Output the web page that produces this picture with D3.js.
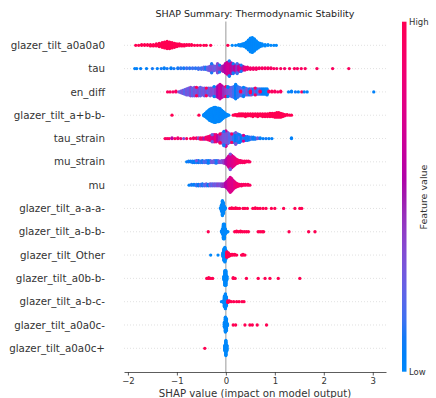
<!DOCTYPE html>
<html>
<head>
<meta charset="utf-8">
<script src="https://cdn.jsdelivr.net/npm/d3@7"></script>
<style>
body { margin: 0; background: #fff; }
text { font-family: "DejaVu Sans", sans-serif; }
</style>
</head>
<body>
<svg id="chart" width="436" height="398"></svg>
<script>
// feature order, top to bottom
const features = ["glazer_tilt_a0a0a0", "tau", "en_diff", "glazer_tilt_a+b-b-", "tau_strain",
  "mu_strain", "mu", "glazer_tilt_a-a-a-", "glazer_tilt_a-b-b-", "glazer_tilt_Other",
  "glazer_tilt_a0b-b-", "glazer_tilt_a-b-c-", "glazer_tilt_a0a0c-", "glazer_tilt_a0a0c+"]

// each entry: [shap value, feature value (0 low .. 1 high), number of samples]
const a0a0a0 = [[-1.84,1,1],[-1.78,1,1],[-1.72,1,2],[-1.66,1,2],[-1.6,1,2],[-1.54,1,3],[-1.48,1,3],[-1.42,1,4],
  [-1.36,1,6],[-1.3,1,8],[-1.25,1,10],[-1.2,1,12],[-1.15,1,11],[-1.1,1,9],[-1.05,1,7],[-1.0,1,5],[-0.95,1,4],
  [-0.9,1,3],[-0.85,1,3],[-0.8,1,2],[-0.75,1,2],[-0.7,1,2],[-0.64,1,1],[-0.58,1,1],[-0.52,1,1],[-0.45,1,1],
  [-0.4,1,1],[-0.31,1,1],[0.04,1,1],
  [0.13,0,1],[0.2,0,1],[0.26,0,2],[0.3,0,3],[0.34,0,4],[0.38,0,6],[0.42,0,10],[0.46,0,16],[0.5,0,22],
  [0.54,0,24],[0.58,0,20],[0.62,0,14],[0.66,0,9],[0.7,0,6],[0.74,0,4],[0.8,0,3],[0.86,0,2],[0.92,0,1],[0.98,0,1],[1.03,0,1]]

const tau = [[-1.86,0.05,1],[-1.82,0.05,1],[-1.74,0.08,1],[-1.62,0.05,1],[-1.5,0.1,1],[-1.4,0.05,1],[-1.32,0.1,1],
  [-1.26,0.05,2],[-1.2,0.1,1],[-1.12,0.08,2],[-1.06,0.1,1],[-0.98,0.1,2],[-0.92,0.12,2],[-0.86,0.1,2],[-0.8,0.15,2],
  [-0.74,0.12,2],[-0.68,0.15,2],[-0.62,0.12,2],[-0.56,0.15,3],[-0.5,0.15,3],[-0.45,0.2,4],[-0.41,0.1,4],[-0.37,0.25,5],
  [-0.33,0.3,7],[-0.29,0.32,12],[-0.25,0.28,8],[-0.21,0.25,6],[-0.17,0.35,14],[-0.13,0.4,9],[-0.09,0.45,7],[-0.05,0.5,9],
  [-0.01,0.6,14],[0.03,0.68,18],[0.07,0.7,20],[0.11,0.62,16],[0.15,0.5,12],[0.19,0.6,11],[0.23,0.45,12],[0.27,0.65,10],
  [0.31,0.75,8],[0.35,0.5,6],[0.39,0.8,5],[0.44,0.85,4],[0.5,0.9,3],[0.56,0.88,3],[0.62,0.92,3],[0.68,0.9,2],
  [0.74,0.95,2],[0.8,0.9,2],[0.86,0.95,2],[0.92,0.92,2],[0.98,0.95,1],[1.04,0.9,1],[1.12,0.95,1],[1.2,0.9,1],
  [1.3,0.95,1],[1.4,0.95,1],[1.46,0.92,1],[1.54,0.95,1],[1.62,0.95,1],[1.86,0.95,1],[2.18,0.95,1],[2.51,0.95,1],
  [0.07,0.1,3],[0.15,0.1,3],[0.23,0.15,3],[-0.29,0.1,2],[-0.13,0.1,2],[0.31,0.1,2]]

const en_diff = [[-1.19,0.95,1],[-1.14,0.95,1],[-1.08,0.9,1],[-1.02,0.95,2],[-0.96,0.3,1],[-0.92,0.25,3],[-0.88,0.3,5],
  [-0.84,0.2,7],[-0.8,0.3,9],[-0.76,0.25,10],[-0.72,0.35,12],[-0.68,0.2,11],[-0.64,0.3,12],[-0.6,0.25,10],[-0.56,0.35,11],
  [-0.52,0.2,12],[-0.48,0.3,10],[-0.44,0.25,11],[-0.4,0.35,9],[-0.36,0.2,10],[-0.32,0.3,11],[-0.28,0.35,10],[-0.24,0.3,12],
  [-0.2,0.4,13],[-0.16,0.55,16],[-0.12,0.68,20],[-0.08,0.6,16],[-0.04,0.45,13],[0.0,0.4,12],[0.04,0.35,11],[0.08,0.3,12],
  [0.12,0.25,13],[0.16,0.15,15],[0.2,0.08,17],[0.24,0.12,15],[0.28,0.15,12],[0.32,0.2,11],[0.36,0.25,10],[0.4,0.15,10],
  [0.44,0.3,9],[0.48,0.1,9],[0.52,0.35,9],[0.56,0.1,8],[0.6,0.3,8],[0.64,0.12,8],[0.68,0.2,8],[0.72,0.1,8],[0.76,0.08,8],
  [0.8,0.05,8],[0.84,0.02,9],[0.88,0.95,2],[0.94,0.95,2],[1.0,0.95,2],[1.06,0.9,1],[1.12,0.95,2],[1.28,0.05,1],
  [1.34,0.05,2],[1.42,0.1,1],[1.48,0.05,1],[1.55,0.95,1],[1.6,0.05,1],[1.66,0.05,1],[3.02,0.05,1],
  [-0.6,0.95,2],[-0.4,0.95,2],[0.0,0.95,2],[0.3,0.95,2],[0.5,0.95,3],[0.6,0.9,2],[0.7,0.95,2],[-0.24,0.05,2],
  [0.04,0.05,3],[0.36,0.05,3],[0.2,0.05,3]]

const a_b_b = [[-1.1,1,1],[-0.55,1,1],
  [-0.45,0,3],[-0.42,0,6],[-0.39,0,10],[-0.36,0,14],[-0.33,0,18],[-0.3,0,20],[-0.27,0,22],[-0.24,0,24],[-0.21,0,24],
  [-0.18,0,22],[-0.15,0,22],[-0.12,0,20],[-0.09,0,16],[-0.06,0,12],[-0.03,0,8],[0.0,0,5],[0.03,0,3],[0.06,0,1],
  [0.15,1,1],[0.19,1,2],[0.23,1,3],[0.27,1,4],[0.31,1,4],[0.35,1,4],[0.4,1,5],[0.45,1,4],[0.5,1,4],[0.55,1,5],
  [0.6,1,4],[0.65,1,5],[0.7,1,4],[0.75,1,5],[0.8,1,5],[0.85,1,5],[0.9,1,6],[0.95,1,6],[1.0,1,7],[1.04,1,8],
  [1.08,1,8],[1.12,1,7],[1.16,1,5],[1.2,1,3],[1.25,1,2],[1.3,1,1],[1.34,1,1]]

const tau_strain = [[-1.24,0.95,1],[-1.2,0.9,1],[-1.16,0.95,1],[-1.1,0.6,2],[-1.04,0.95,1],[-0.98,0.85,2],[-0.92,0.9,1],
  [-0.86,0.35,1],[-0.8,0.95,1],[-0.72,0.95,1],[-0.66,0.9,2],[-0.6,0.95,2],[-0.56,0.35,2],[-0.52,0.95,3],[-0.48,0.9,3],
  [-0.44,0.5,3],[-0.4,0.95,4],[-0.36,0.85,6],[-0.32,0.9,8],[-0.28,0.75,10],[-0.24,0.7,12],[-0.2,0.85,12],[-0.16,0.6,10],
  [-0.12,0.45,12],[-0.08,0.35,16],[-0.04,0.3,20],[0.0,0.28,22],[0.04,0.3,18],[0.08,0.2,14],[0.12,0.25,12],[0.16,0.12,14],
  [0.2,0.08,16],[0.24,0.1,14],[0.28,0.15,10],[0.32,0.08,9],[0.36,0.12,8],[0.4,0.05,7],[0.44,0.1,7],[0.48,0.05,5],
  [0.52,0.15,4],[0.56,0.05,4],[0.6,0.1,3],[0.65,0.3,2],[0.7,0.05,2],[0.76,0.05,1],[0.82,0.1,1],[0.88,0.05,1],
  [0.94,0.05,1],[1.34,0.05,2],
  [-0.12,0.95,3],[-0.28,0.25,2],[0.0,0.7,3],[0.12,0.9,2],[0.2,0.3,3],[0.28,0.05,3],[-0.04,0.1,3],[0.36,0.7,2]]

const mu_strain = [[-0.8,0.05,1],[-0.76,0.1,2],[-0.72,0.05,2],[-0.68,0.1,3],[-0.64,0.05,3],[-0.6,0.12,3],[-0.56,0.08,4],
  [-0.52,0.15,3],[-0.48,0.1,4],[-0.44,0.2,3],[-0.4,0.15,4],[-0.36,0.25,3],[-0.32,0.2,4],[-0.28,0.3,3],[-0.24,0.25,4],
  [-0.2,0.3,3],[-0.16,0.25,4],[-0.12,0.35,3],[-0.08,0.3,4],[-0.04,0.4,5],[0.0,0.5,7],[0.03,0.6,12],[0.06,0.68,18],
  [0.09,0.72,22],[0.12,0.7,20],[0.15,0.75,16],[0.18,0.78,12],[0.21,0.82,8],[0.24,0.85,6],[0.27,0.9,4],[0.3,0.9,4],
  [0.34,0.92,3],[0.38,0.95,3],[0.42,0.95,2],[0.46,0.95,2],[0.49,0.95,1],
  [-0.6,0.3,1],[-0.36,0.05,2],[-0.2,0.1,2],[0.09,0.3,3]]

const mu = [[-0.75,0.05,1],[-0.7,0.1,2],[-0.65,0.05,2],[-0.6,0.15,3],[-0.56,0.08,3],[-0.52,0.2,3],[-0.48,0.1,4],
  [-0.44,0.18,3],[-0.4,0.25,4],[-0.36,0.08,3],[-0.32,0.3,4],[-0.28,0.2,4],[-0.24,0.3,4],[-0.2,0.25,4],[-0.16,0.35,4],
  [-0.12,0.3,4],[-0.08,0.4,5],[-0.04,0.45,5],[0.0,0.55,8],[0.03,0.6,12],[0.06,0.68,18],[0.09,0.72,24],[0.12,0.75,20],
  [0.15,0.72,14],[0.18,0.8,10],[0.21,0.82,7],[0.24,0.88,5],[0.28,0.9,3],[0.32,0.92,3],[0.36,0.95,2],[0.4,0.95,2],
  [0.45,0.95,2],[0.49,0.95,1]]

const a_a_a = [[-0.11,0,2],[-0.09,0,10],[-0.07,0,24],[-0.05,0,18],[-0.03,0,6],[-0.01,0,2],
  [0.08,1,1],[0.12,1,2],[0.16,1,1],[0.2,1,2],[0.24,1,1],[0.28,1,1],[0.35,1,1],[0.39,1,1],[0.44,1,1],[0.55,1,1],
  [0.6,1,2],[0.65,1,1],[0.7,1,1],[0.76,1,1],[0.82,1,1],[0.93,1,1],[1.0,1,1],[1.18,1,1],[1.41,1,1],[1.51,1,1],[1.55,1,1]]

const a_b_b2 = [[-0.36,1,1],
  [-0.09,0,2],[-0.07,0,8],[-0.05,0,22],[-0.03,0,22],[-0.01,0,8],[0.01,0,3],[0.04,0,1],
  [0.18,1,1],[0.22,1,2],[0.26,1,1],[0.3,1,2],[0.34,1,1],[0.38,1,1],[0.42,1,1],[0.46,1,1],[0.66,1,1],[0.7,1,1],
  [0.74,1,1],[0.77,1,1],[1.29,1,1],[1.69,1,1],[1.82,1,1]]

const other = [[-0.31,0,1],[-0.16,0,1],[-0.06,0,6],[-0.04,0,16],[-0.02,0,20],[0.0,0,12],
  [0.02,1,8],[0.05,1,6],[0.08,1,3],[0.11,1,2],[0.14,1,2],[0.18,1,2],[0.22,1,1],[0.32,1,1],[0.35,1,2],[0.39,1,1]]

const a0b_b = [[-0.39,1,1],[-0.35,1,2],[-0.31,1,1],[-0.27,1,1],
  [-0.04,0,6],[-0.02,0,22],[0.0,0,22],[0.02,0,6],
  [0.15,1,2],[0.19,1,1],[0.42,1,1],[0.66,1,1],[0.8,1,1],[0.9,1,1],[1.07,1,1],[1.51,1,1]]

const a_b_c = [[-0.09,0,1],[-0.05,0,3],[-0.03,0,16],[-0.01,0,22],[0.01,0,14],
  [0.04,1,3],[0.07,1,2],[0.11,1,1],[0.16,1,1],[0.22,1,1],[0.27,1,1],[0.33,1,1],[0.37,1,1]]

const a0a0c_minus = [[-0.03,0,8],[-0.01,0,24],[0.01,0,20],[0.03,0,4],
  [0.15,1,1],[0.2,1,1],[0.39,1,1],[0.49,1,1],[0.54,1,1],[0.64,1,1],[0.83,1,1]]

const a0a0c_plus = [[-0.43,1,1],[-0.02,0,10],[0.0,0,26],[0.02,0,10]]

const rowData = [a0a0a0, tau, en_diff, a_b_b, tau_strain, mu_strain, mu, a_a_a, a_b_b2, other, a0b_b, a_b_c, a0a0c_minus, a0a0c_plus]
const xlim = [-2.08, 3.27]
const xTicks = [-2, -1, 0, 1, 2, 3]

const svg = d3.select('#chart')

const x = d3.scaleLinear().domain(xlim).range([124, 386])
const y = d3.scalePoint().domain(features).range([45.3, 348.3])
const rowStep = y.step()

// shap red_blue colormap (lch interpolation, darker in the middle)
function shapColor(t) {
  const l = t < 0.5 ? 54 + (40 - 54) * t * 2 : 40 + (54 - 40) * (t - 0.5) * 2
  const c = 70 + 20 * t
  const h = 267 + (380.3 - 267) * t
  return d3.hcl(h, c, l).formatHex()
}

// row gridlines
svg.append('g').selectAll('line')
  .data(features)
  .enter()
  .append('line')
  .attr('x1', 124).attr('x2', 386)
  .attr('y1', d => y(d)).attr('y2', d => y(d))
  .attr('stroke', '#cccccc')
  .attr('stroke-width', 0.6)
  .attr('stroke-dasharray', '1,2')

// zero line
svg.append('line')
  .attr('x1', x(0)).attr('x2', x(0))
  .attr('y1', 21.5).attr('y2', 372)
  .attr('stroke', '#999999')
  .attr('stroke-width', 1)

// beeswarm, stacked by identical shap value like shap's binning
features.forEach((f, i) => {
  const pts = []
  rowData[i].forEach(([v, fv, n]) => {
    for (let k = 0; k < n; k++) pts.push({v: v, fv: fv})
  })
  const stacks = d3.group(pts, d => d.v)
  let maxLayer = 0
  stacks.forEach(list => {
    list.forEach((p, layer) => {
      p.ys = Math.ceil(layer / 2) * ((layer % 2) * 2 - 1)
      maxLayer = Math.max(maxLayer, Math.abs(p.ys))
    })
  })
  const scale = 0.9 * (0.4 / (maxLayer + 1))
  svg.append('g').selectAll('circle')
    .data(pts)
    .enter()
    .append('circle')
    .attr('cx', d => x(d.v))
    .attr('cy', d => y(f) - d.ys * scale * rowStep)
    .attr('r', 1.65)
    .attr('fill', d => shapColor(d.fv))
})

// feature labels
svg.append('g').selectAll('text')
  .data(features)
  .enter()
  .append('text')
  .attr('x', 105)
  .attr('y', d => y(d))
  .attr('dy', '0.35em')
  .attr('text-anchor', 'end')
  .attr('font-size', '10.3px')
  .attr('fill', '#333333')
  .text(d => d)

// x axis
const xAxis = svg.append('g')
  .attr('transform', 'translate(0,372)')
  .call(d3.axisBottom(x).tickValues(xTicks).tickFormat(d3.format('d'))
    .tickSize(3.5).tickPadding(2).tickSizeOuter(0))
xAxis.select('.domain').attr('stroke', '#333333').attr('stroke-width', 0.8)
xAxis.selectAll('.tick line').attr('stroke', '#333333').attr('stroke-width', 0.8)
xAxis.selectAll('.tick text')
  .attr('font-family', '"DejaVu Sans", sans-serif')
  .attr('font-size', '8.5px')
  .attr('fill', '#333333')

svg.append('text')
  .attr('x', 255)
  .attr('y', 397)
  .attr('text-anchor', 'middle')
  .attr('font-size', '10.2px')
  .attr('fill', '#333333')
  .text('SHAP value (impact on model output)')

// title
svg.append('text')
  .attr('x', 255)
  .attr('y', 16.5)
  .attr('text-anchor', 'middle')
  .attr('font-size', '9.5px')
  .attr('fill', '#222222')
  .text('SHAP Summary: Thermodynamic Stability')

// colour bar
const defs = svg.append('defs')
const grad = defs.append('linearGradient')
  .attr('id', 'cbar')
  .attr('x1', 0).attr('y1', 1).attr('x2', 0).attr('y2', 0)
d3.range(0, 1.0001, 0.05).forEach(t => {
  grad.append('stop').attr('offset', t).attr('stop-color', shapColor(t))
})
svg.append('rect')
  .attr('x', 402).attr('y', 21.7)
  .attr('width', 4.5).attr('height', 350)
  .attr('fill', 'url(#cbar)')

svg.append('text')
  .attr('x', 409).attr('y', 25)
  .attr('font-size', '8.5px').attr('fill', '#333333')
  .text('High')
svg.append('text')
  .attr('x', 409).attr('y', 375)
  .attr('font-size', '8.5px').attr('fill', '#333333')
  .text('Low')
svg.append('text')
  .attr('transform', 'translate(427,197) rotate(-90)')
  .attr('text-anchor', 'middle')
  .attr('font-size', '9.5px').attr('fill', '#333333')
  .text('Feature value')
</script>
</body>
</html>
